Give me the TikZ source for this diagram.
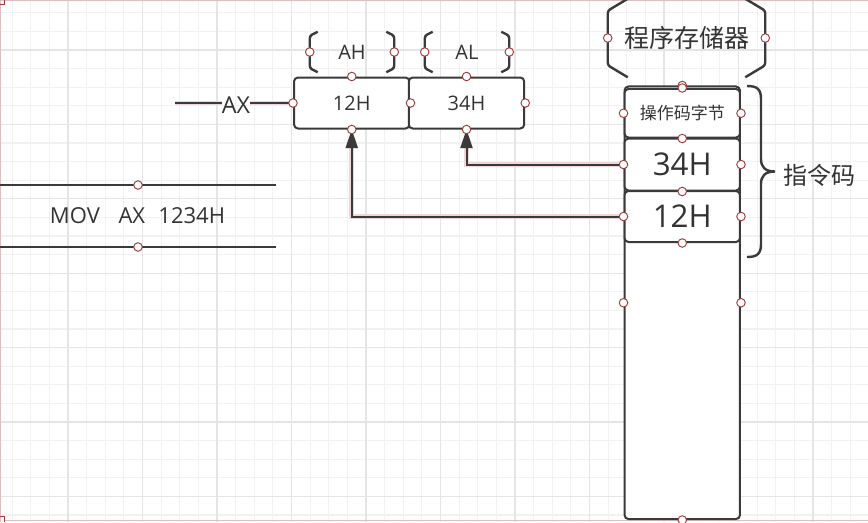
\documentclass[tikz,border=0pt]{standalone}
\usepackage{fontspec}
\setmainfont{Open Sans}
\newfontfamily\cjk{Noto Sans CJK SC}
\usetikzlibrary{arrows.meta,calc}
\definecolor{ink}{HTML}{3A3A3A}
\definecolor{txt}{HTML}{333333}
\definecolor{hdl}{HTML}{A03C3C}
\definecolor{gmin}{HTML}{F2F2F2}
\definecolor{gmaj}{HTML}{E5E5E5}
\definecolor{glowc}{HTML}{F0D6D8}
\definecolor{edgec}{HTML}{DCC0C1}
\newcommand\bracketpair[3]{%
  \draw[brk] ($(#1.north west)+(#2,0)$) -- ($(#1.north west)+(0,#3)$) -- ($(#1.south west)+(0,-#3)$) -- ($(#1.south west)+(#2,0)$);
  \draw[brk] ($(#1.north east)+(-#2,0)$) -- ($(#1.north east)+(0,#3)$) -- ($(#1.south east)+(0,-#3)$) -- ($(#1.south east)+(-#2,0)$);}
\begin{document}
\begin{tikzpicture}[x=0.75pt,y=-0.75pt,
  reg/.style={draw=ink, line width=1.5pt, rounded corners=3pt, fill=white, minimum width=86.6pt, minimum height=38.25pt, inner sep=0pt, text=txt, font=\fontsize{15}{17}\selectfont},
  cell/.style={draw=ink, line width=1.5pt, rounded corners=3pt, fill=white, minimum width=86.6pt, inner sep=0pt, text=txt},
  conn/.style={draw=ink, line width=1.5pt, preaction={draw=glowc, line width=3.4pt}},
  plain/.style={draw=ink, line width=1.5pt},
  brk/.style={draw=ink, line width=1.8pt, rounded corners=2pt},
  hnd/.style={draw=hdl, fill=white, line width=0.7pt},
  lbl/.style={text=txt, inner sep=0pt}]
\useasboundingbox (0,0) rectangle (868,522);
\fill[white] (0,0) rectangle (868,522);
% grid
\foreach \i in {-3,...,43} \draw[gmin, line width=0.9pt] ({68+18.625*\i},0) -- ({68+18.625*\i},522);
\foreach \j in {-2,...,25} \draw[gmin, line width=0.9pt] (0,{50+18.6*\j}) -- (868,{50+18.6*\j});
\foreach \i in {-1,...,10} \draw[gmaj, line width=0.9pt] ({68+74.5*\i},0) -- ({68+74.5*\i},522);
\foreach \j in {0,...,6} \draw[gmaj, line width=0.9pt] (0,{50+74.4*\j}) -- (868,{50+74.4*\j});
% page edges
\draw[edgec, line width=0.9pt] (0.6,0) -- (0.6,522);
\draw[edgec, line width=0.9pt] (0,0.6) -- (868,0.6);
\draw[edgec, line width=1.1pt] (4,520.5) -- (868,520.5);
\draw[hdl, line width=0.75pt] (0,4.5) -- (4.5,4.5) -- (4.5,0);
\draw[hdl, line width=0.75pt] (0,516.5) -- (4.5,516.5) -- (4.5,522);

% MOV instruction
\coordinate (m1a) at (0,185);
\coordinate (m1b) at (276,185);
\coordinate (m2a) at (0,247);
\coordinate (m2b) at (276,247);
\draw[plain] (m1a) -- (m1b);
\draw[plain] (m2a) -- (m2b);
\node[lbl, font=\fontsize{16.5}{18}\selectfont] (mov) at (137.5,216) {MOV\hspace{14pt}AX\hspace{10pt}1234H};

% registers
\node[reg] (box12) at (351.75,103) {12H};
\node[reg] (box34) at (466.5,103) {34H};
\node[lbl, font=\fontsize{15}{17}\selectfont, minimum width=63pt, minimum height=30pt] (AH) at (352,52) {AH};
\node[lbl, font=\fontsize{15}{17}\selectfont, minimum width=63pt, minimum height=30pt] (AL) at (467,52) {AL};
\bracketpair{AH}{8}{4}
\bracketpair{AL}{8}{4}

% AX label
\coordinate (axs) at (175,103);
\node[lbl, font=\fontsize{17.5}{19}\selectfont] (AX) at (236,105) {AX};
\draw[conn] (axs) -- (axs -| AX.west);
\draw[conn] (axs -| AX.east) -- (box12.west);

% program memory
\node[lbl, font=\cjk\fontsize{18.75}{20}\selectfont, minimum width=117.75pt, minimum height=58.5pt] (PS) at (686.5,38) {程序存储器};
\bracketpair{PS}{20}{12}
\node[cell, minimum height=324.4pt] (mem) at (682.25,302.75) {};
\node[cell, minimum height=36.4pt, font=\cjk\fontsize{12.75}{14}\selectfont] (op) at (682.25,113.25) {操作码字节};
\node[cell, minimum height=39pt, font=\fontsize{23.5}{26}\selectfont] (c34) at (682.25,164.5) {34H};
\node[cell, minimum height=38.25pt, font=\fontsize{23.5}{26}\selectfont] (c12) at (682.25,216.5) {12H};

% brace for instruction code
\draw[draw=ink, line width=1.8pt] (747,86) .. controls (757,86) and (761,89) .. (761,99) -- (761,159) .. controls (761,167) and (765,171.5) .. (775,171.5) .. controls (765,171.5) and (761,176) .. (761,184) -- (761,244) .. controls (761,254) and (757,257) .. (747,257);
\node[lbl, font=\cjk\fontsize{18}{20}\selectfont] (zlm) at (819,175) {指令码};

% data paths
\draw[conn, -{Triangle[length=14pt,width=9pt]}] (c34.west) -| (box34.south);
\draw[conn, -{Triangle[length=14pt,width=9pt]}] (c12.west) -| (box12.south);

% selection handles
\foreach \p in {AH.west, AH.east, AL.west, AL.east, box12.north, box12.south, box12.west, box12.east, box34.north, box34.south, box34.east, PS.west, PS.east, mem.north, mem.west, mem.east, mem.south, op.north, op.west, op.east, op.south, c34.west, c34.east, c34.south, c12.west, c12.east, c12.south}
  \draw[hnd] (\p) circle[radius=3.2pt];
\draw[hnd] ($(m1a)!0.5!(m1b)$) circle[radius=3.2pt];
\draw[hnd] ($(m2a)!0.5!(m2b)$) circle[radius=3.2pt];
\end{tikzpicture}
\end{document}
